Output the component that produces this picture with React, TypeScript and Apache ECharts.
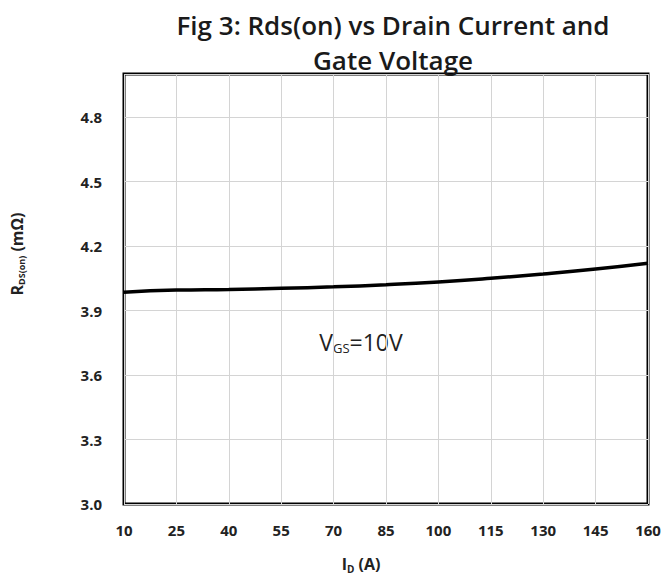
import React, { useEffect, useRef } from "react";
import * as echarts from "echarts";

const currentLabels = ["10", "25", "40", "55", "70", "85", "100", "115", "130", "145", "160"];
const rdsOn = [3.985, 3.995, 3.998, 4.003, 4.01, 4.02, 4.033, 4.05, 4.07, 4.093, 4.12];
const yMin = 3.0;
const yMax = 5.0;
const yStep = 0.3;

export default function App() {
  const ref = useRef<HTMLDivElement>(null);
  useEffect(() => {
    if (!ref.current) return;
    const chart = echarts.init(ref.current, null, { renderer: "svg" });
    const labelFont = { fontFamily: "Open Sans", fontWeight: 700, fontSize: 15, color: "#222" };
    chart.setOption({
      animation: false,
      backgroundColor: "#fff",
      title: {
        text: "Fig 3: Rds(on) vs Drain Current and\nGate Voltage",
        left: 388,
        textAlign: "center",
        top: 2,
        textStyle: {
          fontFamily: "Open Sans",
          fontWeight: 600,
          fontSize: 26,
          lineHeight: 35,
          color: "#1a1a1a",
        },
      },
      grid: {
        left: 124,
        right: 19,
        top: 74,
        bottom: 82,
        show: true,
        borderColor: "#000",
        borderWidth: 3,
        containLabel: false,
      },
      xAxis: {
        type: "category",
        data: currentLabels,
        boundaryGap: false,
        axisLine: { show: false },
        axisTick: { show: false },
        axisLabel: { ...labelFont, margin: 18, interval: 0 },
        splitLine: { show: true, interval: 0, lineStyle: { color: "#d4d4d4", width: 1 } },
      },
      yAxis: {
        type: "value",
        min: yMin,
        max: yMax,
        interval: yStep,
        axisLine: { show: false },
        axisTick: { show: false },
        axisLabel: {
          ...labelFont,
          margin: 22,
          showMaxLabel: false,
          formatter: (v: number) => v.toFixed(1),
        },
        splitLine: { show: true, lineStyle: { color: "#d4d4d4", width: 1 } },
        name: "{r|R}{s|DS(on)}{r| (mΩ)}",
        nameLocation: "middle",
        nameRotate: 90,
        nameGap: 98,
        nameTextStyle: {
          padding: [0, 0, 0, 70],
          rich: {
            r: { fontFamily: "Open Sans", fontWeight: 700, fontSize: 16, color: "#222" },
            s: { fontFamily: "Open Sans", fontWeight: 700, fontSize: 9, color: "#222", padding: [9, 0, 0, 0] },
          },
        },
      },
      graphic: [
        {
          type: "text",
          x: 361,
          y: 564,
          style: {
            text: "{r|I}{s|D}{r| (A)}",
            align: "center",
            verticalAlign: "middle",
            rich: {
              r: { fontFamily: "Open Sans", fontWeight: 700, fontSize: 16, fill: "#222" },
              s: { fontFamily: "Open Sans", fontWeight: 700, fontSize: 10, fill: "#222", padding: [9, 0, 0, 0] },
            },
          },
        },
        {
          type: "text",
          x: 361,
          y: 342,
          style: {
            text: "{r|V}{s|GS}{r|=10V}",
            align: "center",
            verticalAlign: "middle",
            rich: {
              r: { fontFamily: "Open Sans", fontSize: 23, fill: "#222" },
              s: { fontFamily: "Open Sans", fontSize: 13, fill: "#222", padding: [12, 0, 0, 0] },
            },
          },
        },
      ],
      series: [
        {
          type: "line",
          data: rdsOn,
          smooth: true,
          showSymbol: false,
          lineStyle: { color: "#000", width: 3.5 },
          z: 5,
        },
      ],
    });
    return () => chart.dispose();
  }, []);
  return <div ref={ref} style={{ width: 667, height: 586, position: "absolute", left: 0, top: 0 }} />;
}
